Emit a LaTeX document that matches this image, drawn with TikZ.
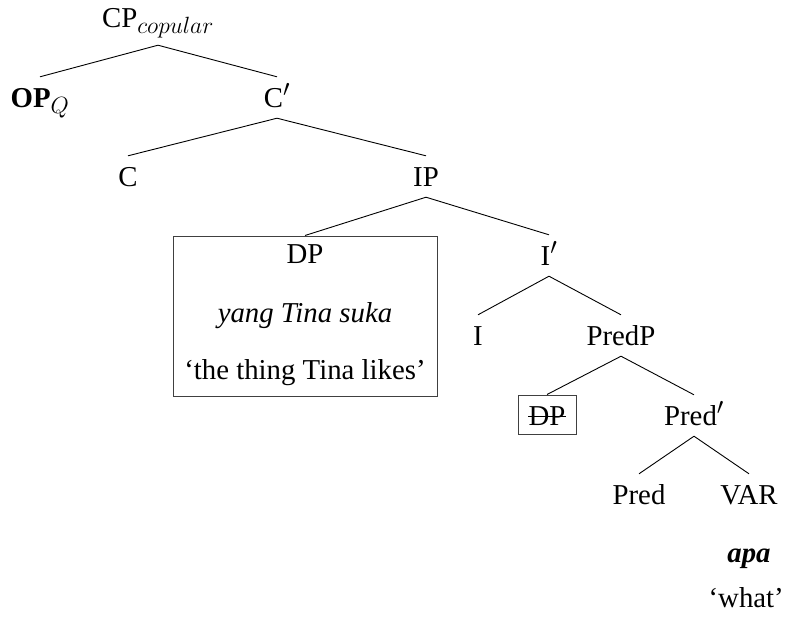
\RequirePackage{fix-cm}
\documentclass[tikz,border=0pt]{standalone}
\usepackage{fontspec}
\setmainfont{Liberation Serif}
\DeclareMathSizes{28.8}{28.8}{23.5}{18}
\begin{document}
\begin{tikzpicture}[x=1pt,y=1pt,
  lab/.style={anchor=base, inner sep=0pt, text height=30pt, text depth=11pt,
              font=\fontsize{28.8}{34}\selectfont},
  txt/.style={anchor=base, inner sep=0pt, font=\fontsize{28.8}{34}\selectfont},
  edge/.style={line width=0.9pt},
  frame/.style={draw=black!75, line width=1pt, inner sep=0pt}]
\useasboundingbox (0,0) rectangle (786,-627);

% tree labels
\node[lab, text depth=18pt] (cp) at (158,-27) {CP$_{copular}$};
\node[lab] (op) at (40,-107) {\textbf{OP}$_Q$};
\node[lab] (cbar) at (277,-107) {C$'$};
\node[lab] (c) at (128,-186) {C};
\node[lab] (ip) at (426,-186) {IP};

% boxed subject DP
\node[frame, minimum width=264pt, minimum height=160pt] (dpbox) at (305,-316) {};
\node[txt] (dp) at (305,-263) {DP};
\node[txt] (dpgloss) at (305,-322) {\itshape yang Tina suka};
\node[txt] (dptrans) at (305,-379) {`the thing Tina likes'};

\node[lab] (ibar) at (549,-265) {I$'$};
\node[lab] (i) at (478,-345) {I};
\node[lab] (predp) at (621,-345) {PredP};

% boxed, struck-out DP copy
\node[txt] (sdp) at (547,-425) {DP};
\node[frame, minimum width=58pt, minimum height=39pt] (sdpbox) at (547,-414.5) {};
\draw[edge] ([yshift=9pt]sdp.base west) -- ([yshift=9pt]sdp.base east);

\node[lab] (predbar) at (694,-425) {Pred$'$};
\node[lab] (pred) at (639,-504) {Pred};
\node[lab] (var) at (749,-504) {VAR};
\node[txt] (apa) at (749,-562) {\bfseries\itshape apa};
\node[txt, anchor=base east] (what) at (784,-607) {`what'};

% branches
\draw[edge] (cp.south) -- (op.north);
\draw[edge] (cp.south) -- (cbar.north);
\draw[edge] (cbar.south) -- (c.north);
\draw[edge] (cbar.south) -- (ip.north);
\draw[edge] (ip.south) -- (dpbox.north);
\draw[edge] (ip.south) -- (ibar.north);
\draw[edge] (ibar.south) -- (i.north);
\draw[edge] (ibar.south) -- (predp.north);
\draw[edge] (predp.south) -- (sdpbox.north);
\draw[edge] (predp.south) -- (predbar.north);
\draw[edge] (predbar.south) -- (pred.north);
\draw[edge] (predbar.south) -- (var.north);
\end{tikzpicture}
\end{document}
